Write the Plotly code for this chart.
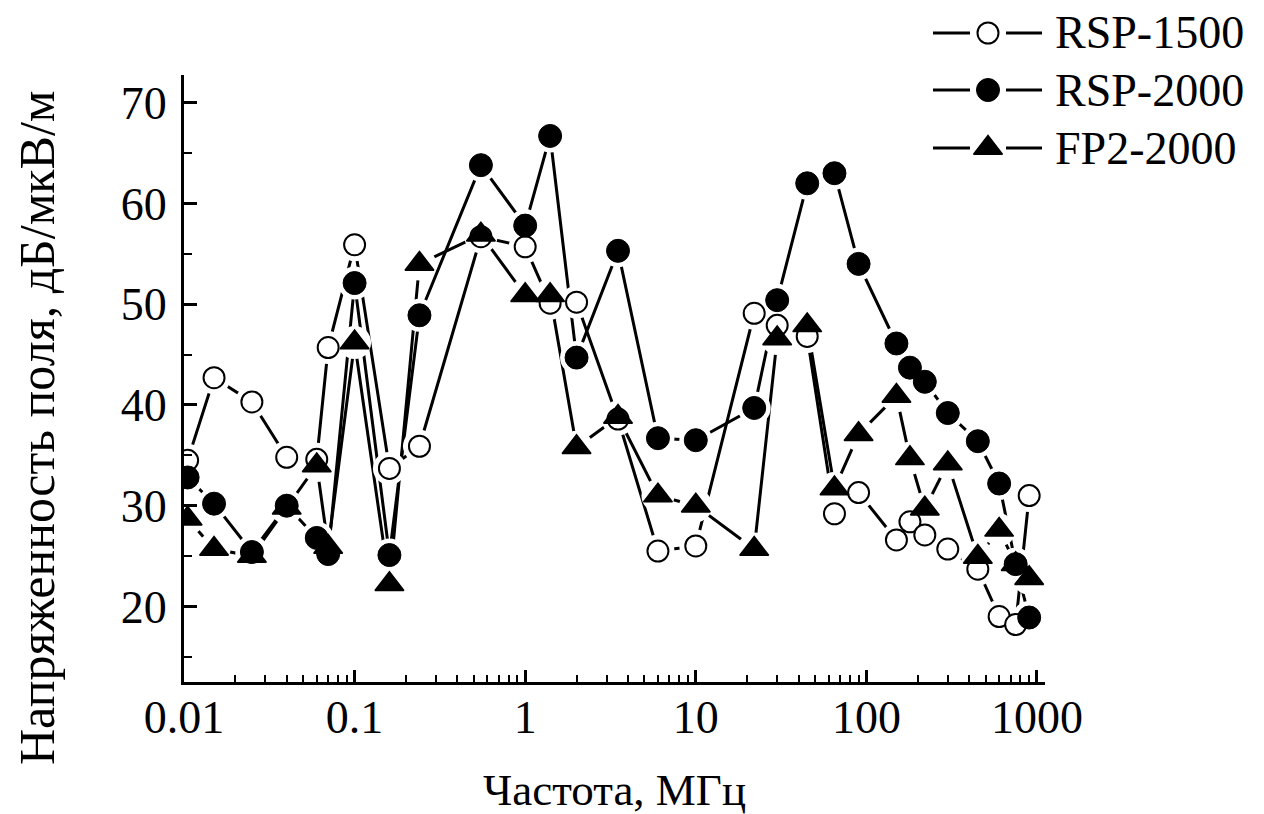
import plotly.graph_objects as go

# ---------------- data ----------------
freq_mhz = [0.0105, 0.015, 0.025, 0.04, 0.06, 0.07, 0.1, 0.16, 0.24, 0.55,
            1, 1.4, 2, 3.5, 6, 10, 22, 30, 45, 65,
            90, 150, 180, 220, 300, 450, 600, 750, 900]

rsp1500 = [34.5, 42.7, 40.3, 34.8, 34.6, 45.7, 55.9, 33.7, 35.9, 56.7,
           55.7, 50.1, 50.2, 38.6, 25.5, 26.0, 49.1, 47.9, 46.8, 29.2,
           31.3, 26.6, 28.4, 27.1, 25.7, 23.7, 19.0, 18.2, 31.0]

rsp2000 = [32.8, 30.2, 25.4, 30.0, 26.8, 25.2, 52.1, 25.1, 48.9, 63.8,
           57.8, 66.7, 44.7, 55.3, 36.7, 36.5, 39.7, 50.4, 62.0, 63.0,
           54.0, 46.1, 43.7, 42.3, 39.2, 36.4, 32.2, 24.2, 18.9]

fp2_2000 = [28.7, 25.7, 25.0, 29.8, 34.0, 25.9, 46.2, 22.2, 54.0, 56.9,
            50.9, 50.9, 35.8, 38.8, 31.0, 30.0, 25.7, 46.6, 47.9, 31.7,
            37.1, 40.9, 34.7, 29.7, 34.2, 24.9, 27.6, 24.2, 22.8]

series_names = ["RSP-1500", "RSP-2000", "FP2-2000"]

x_tick_vals = [0.01, 0.1, 1, 10, 100, 1000]
x_tick_text = ["0.01", "0.1", "1", "10", "100", "1000"]
y_tick_vals = [20, 30, 40, 50, 60, 70]

x_title = "Частота, МГц"
y_title = "Напряженность поля, дБ/мкВ/м"

# ---------------- layout geometry (pixels) ----------------
W, H = 1264, 814
PL, PR, PB = 184, 1045, 682      # plot area left / right / bottom
PT = 75                          # top of main plot area


def px_x(px):
    return (px - PL) / (PR - PL)


def px_y(py):
    return (PB - py) / PB         # paper spans from figure top to PB


# ---------------- styling ----------------
FONT = "Liberation Serif"
FS = 46
LW = 3
markers = [
    dict(symbol="circle", size=21, color="white", line=dict(color="black", width=2)),
    dict(symbol="circle", size=23, color="black", line=dict(color="black", width=1)),
    dict(symbol="triangle-up", size=25, color="black", line=dict(color="black", width=1.5)),
]
values = [rsp1500, rsp2000, fp2_2000]

fig = go.Figure()

# connecting lines
for vals in values:
    fig.add_trace(go.Scatter(x=freq_mhz, y=vals, mode="lines",
                             line=dict(color="black", width=LW),
                             showlegend=False, hoverinfo="skip"))
# white halos -> gaps of the line around each symbol
for vals in values:
    fig.add_trace(go.Scatter(x=freq_mhz, y=vals, mode="markers",
                             marker=dict(symbol="circle", size=33, color="white"),
                             showlegend=False, hoverinfo="skip"))
# symbols
for name, vals, m in zip(series_names, values, markers):
    fig.add_trace(go.Scatter(x=freq_mhz, y=vals, mode="markers", marker=m,
                             name=name, showlegend=False))

# ---------------- hand-made legend (top right, like the original) ----------------
leg_rows_py = [33, 90, 148]
leg_sym_px = 988
leg_seg_px = [(933, 970), (1006, 1042)]
leg_text_px = 1053

shapes = []
for py in leg_rows_py:
    for x0, x1 in leg_seg_px:
        shapes.append(dict(type="line", xref="paper", yref="paper",
                           x0=px_x(x0), x1=px_x(x1), y0=px_y(py), y1=px_y(py),
                           line=dict(color="black", width=LW)))
for name, m, py in zip(series_names, markers, leg_rows_py):
    fig.add_trace(go.Scatter(x=[px_x(leg_sym_px)], y=[px_y(py)], mode="markers", marker=m,
                             xaxis="x2", yaxis="y2", cliponaxis=False,
                             showlegend=False, hoverinfo="skip"))

annotations = [
    dict(text=x_title, xref="paper", yref="paper", x=0.5, y=px_y(790),
         xanchor="center", yanchor="middle", showarrow=False,
         font=dict(family=FONT, size=45, color="black")),
    dict(text=y_title, xref="paper", yref="paper", x=px_x(37), y=px_y(428),
         xanchor="center", yanchor="middle", textangle=-90, showarrow=False,
         font=dict(family=FONT, size=50, color="black")),
]
for name, py in zip(series_names, leg_rows_py):
    annotations.append(dict(text=name, xref="paper", yref="paper", x=px_x(leg_text_px),
                            y=px_y(py), xanchor="left", yanchor="middle", showarrow=False,
                            font=dict(family=FONT, size=FS, color="black")))

minor_x = [k * 10.0 ** d for d in range(-2, 3) for k in range(2, 10)]

fig.update_layout(
    width=W, height=H,
    margin=dict(l=PL, r=W - PR, t=0, b=H - PB, autoexpand=False),
    paper_bgcolor="white", plot_bgcolor="rgba(0,0,0,0)",
    font=dict(family=FONT, size=FS, color="black"),
    showlegend=False,
    xaxis=dict(type="log", range=[-2, 3.047],
               tickmode="array", tickvals=x_tick_vals, ticktext=x_tick_text,
               ticks="inside", ticklen=12, tickwidth=2.5, tickcolor="black",
               showline=True, linecolor="black", linewidth=3, mirror=False,
               showgrid=False, zeroline=False, ticklabelstandoff=-7,
               tickfont=dict(family=FONT, size=FS, color="black"),
               minor=dict(tickmode="array", tickvals=minor_x, ticks="inside",
                          ticklen=7, tickwidth=2, tickcolor="black", showgrid=False)),
    yaxis=dict(range=[12.5, 72.75], domain=[0, px_y(PT)],
               tickmode="array", tickvals=y_tick_vals,
               ticks="inside", ticklen=13, tickwidth=2.5, tickcolor="black",
               showline=True, linecolor="black", linewidth=3, mirror=False,
               showgrid=False, zeroline=False, ticklabelstandoff=5,
               tickfont=dict(family=FONT, size=FS, color="black"),
               minor=dict(dtick=5, ticks="inside", ticklen=8, tickwidth=2,
                          tickcolor="black", showgrid=False)),
    xaxis2=dict(anchor="y2", range=[0, 1], domain=[0, 1], visible=False, fixedrange=True),
    yaxis2=dict(anchor="x2", range=[0, 1], domain=[0, 1], visible=False, fixedrange=True),
    shapes=shapes,
    annotations=annotations,
)

fig.write_html("out.html")
